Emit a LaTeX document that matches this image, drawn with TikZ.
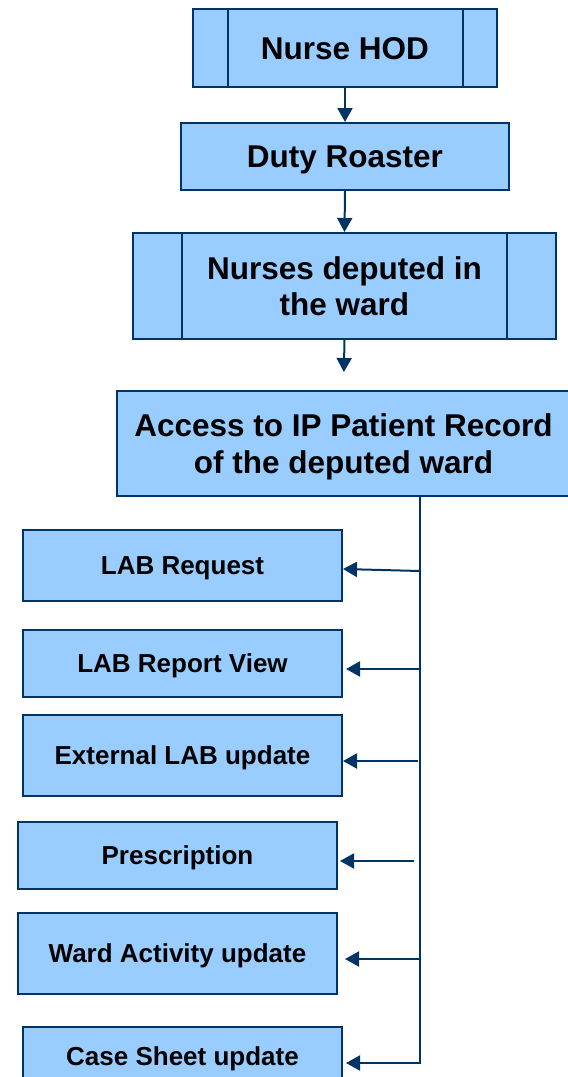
\documentclass[tikz,border=0pt]{standalone}
\usepackage{fontspec}
\setmainfont{Liberation Sans}
\usetikzlibrary{arrows.meta,calc}
\definecolor{boxfill}{HTML}{99CCFF}
\definecolor{navy}{HTML}{003366}
\tikzset{
  box/.style={draw=navy, fill=boxfill, line width=2bp, inner sep=0pt, align=center, text=black},
  bigbox/.style={box, font=\fontsize{31.5bp}{36.5bp}\selectfont\bfseries,
    text height=22.6bp, text depth=-4bp},
  bigboxtwo/.style={box, font=\fontsize{31.5bp}{36.5bp}\selectfont\bfseries,
    text height=59.1bp, text depth=-1bp},
  smallbox/.style={box, font=\fontsize{26bp}{31bp}\selectfont\bfseries,
    text height=18.6bp, text depth=-2bp},
  arr/.style={draw=navy, line width=2bp, -{Triangle[length=14bp,width=15bp]}},
  trunk/.style={draw=navy, line width=2.5bp},
  sidebar/.style={draw=navy, line width=2bp}
}
\begin{document}
\begin{tikzpicture}[x=1bp, y=-1bp]
\useasboundingbox (0,0) rectangle (568,1077);

% main column
\node[bigbox, minimum width=304bp, minimum height=78bp] (hod) at (345,48) {Nurse HOD};
\draw[sidebar] ([xshift=36bp]hod.north west) -- ([xshift=36bp]hod.south west);
\draw[sidebar] ([xshift=-35bp]hod.north east) -- ([xshift=-35bp]hod.south east);

\node[bigbox, minimum width=328bp, minimum height=67bp] (duty) at (345,156.5) {Duty Roaster};

\node[bigboxtwo, minimum width=423bp, minimum height=106bp] (nurses) at (344.5,286) {Nurses deputed in\\the ward};
\draw[sidebar] ([xshift=50bp]nurses.north west) -- ([xshift=50bp]nurses.south west);
\draw[sidebar] ([xshift=-50bp]nurses.north east) -- ([xshift=-50bp]nurses.south east);

\node[bigboxtwo, minimum width=453bp, minimum height=105bp] (access) at (343.5,443.5) {Access to IP Patient Record\\of the deputed ward};

\draw[arr] (hod.south) -- (duty.north);
\draw[arr] (duty.south) -- (nurses.north);
\draw[arr, shorten >=18bp] (nurses.south) -- (access.north);

% module boxes
\node[smallbox, minimum width=319bp, minimum height=71bp] (labreq) at (182.5,565.5) {LAB Request};
\node[smallbox, minimum width=319bp, minimum height=67bp] (labview) at (182.5,663.5) {LAB Report View};
\node[smallbox, minimum width=319bp, minimum height=81bp] (extlab) at (182.5,755.5) {External LAB update};
\node[smallbox, minimum width=319bp, minimum height=67bp] (presc) at (177.5,855.5) {Prescription};
\node[smallbox, minimum width=319bp, minimum height=81bp] (ward) at (177.5,953.5) {Ward Activity update};
\node[smallbox, minimum width=319bp, minimum height=58bp] (casesheet) at (182.5,1056) {Case Sheet update};

% distribution trunk
\coordinate (ttop) at (420,496);
\coordinate (tbot) at (420,1064);
\draw[trunk] (ttop) -- (tbot);

\coordinate (b1) at (420,571);
\coordinate (b2) at (420,669);
\coordinate (b3) at (418,761);
\coordinate (b4) at (414,861);
\coordinate (b5) at (420,959);
\coordinate (b6) at (420,1063);

\draw[arr] (b1) -- ([yshift=-3.5bp]labreq.east);
\draw[arr, shorten >=3bp] (b2) -- (labview.east |- b2);
\draw[arr] (b3) -- (extlab.east |- b3);
\draw[arr, shorten >=2bp] (b4) -- (presc.east |- b4);
\draw[arr, shorten >=7bp] (b5) -- (ward.east |- b5);
\draw[arr, shorten >=3bp] (b6) -- (casesheet.east |- b6);
\end{tikzpicture}
\end{document}
